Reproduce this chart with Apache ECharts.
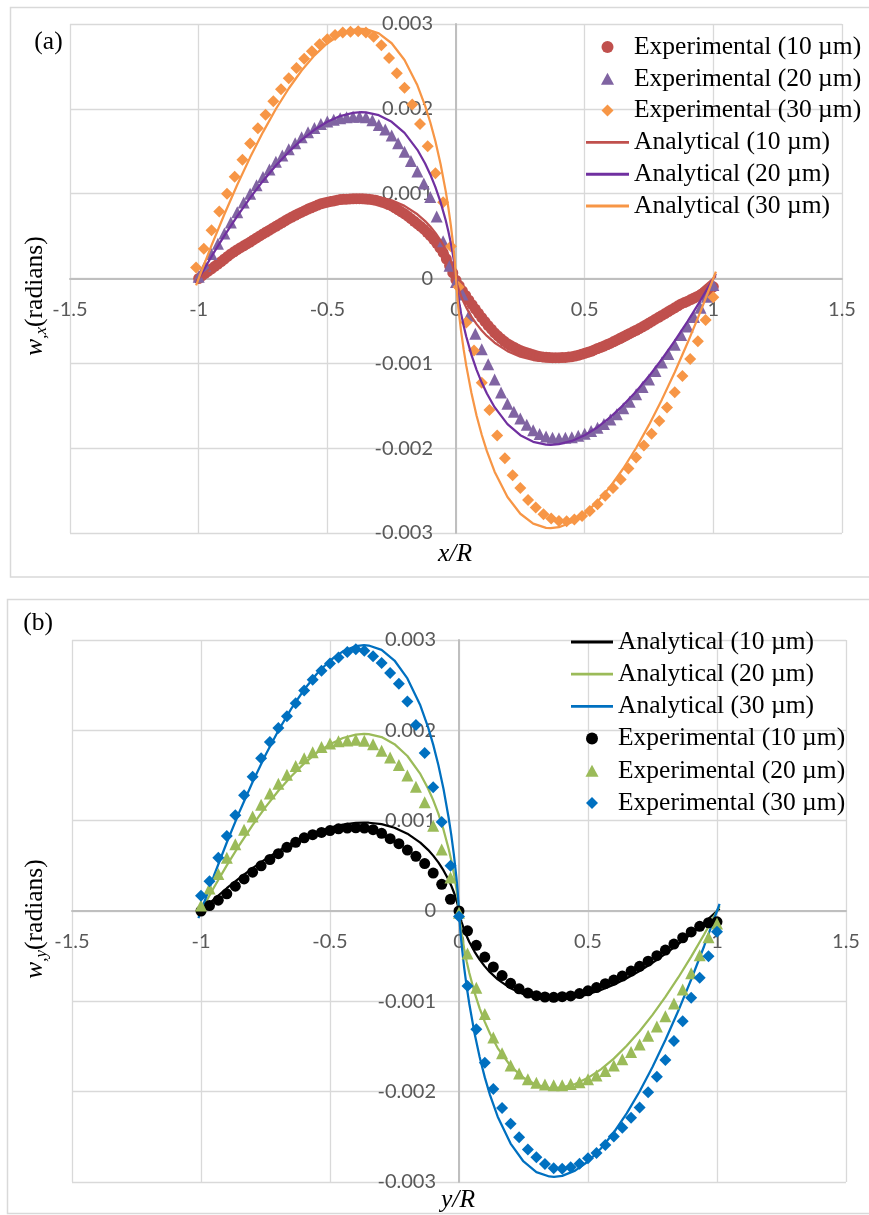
<!DOCTYPE html>
<html><head><meta charset="utf-8">
<script src="https://cdn.jsdelivr.net/npm/echarts@6/dist/echarts.min.js"></script>
<style>html,body{margin:0;padding:0;background:#fff}#c{width:869px;height:1215px}</style>
</head><body><div id="c"></div>
<script>
// ---- values (y in units of 1e-6 rad) ----
const Y_UNIT = 1e-6;
const xTicks = [-1.5, -1, -0.5, 0, 0.5, 1, 1.5];
const yTicks = [-0.003, -0.002, -0.001, 0, 0.001, 0.002, 0.003];

// analytical curves (shared by both panels)
const anX = [-1.01,-1,-0.95,-0.9,-0.85,-0.8,-0.75,-0.7,-0.65,-0.6,-0.55,-0.5,-0.45,-0.4,-0.368,-0.35,-0.3,-0.25,-0.2,-0.15,-0.12,-0.1,-0.08,-0.06,-0.04,-0.03,-0.02,-0.01,-0.005,0,0.005,0.01,0.02,0.03,0.04,0.06,0.08,0.1,0.12,0.15,0.2,0.25,0.3,0.35,0.368,0.4,0.45,0.5,0.55,0.6,0.65,0.7,0.75,0.8,0.85,0.9,0.95,1,1.01];
const an10 = [-27,0,130,252,367,475,574,664,745,815,875,922,956,975,979,977,961,922,856,757,677,613,538,449,343,280,208,123,70,0,-70,-123,-208,-280,-343,-449,-538,-613,-677,-757,-856,-922,-961,-977,-979,-975,-956,-922,-875,-815,-745,-664,-574,-475,-367,-252,-130,0,27];
const an20 = [-54,0,260,505,736,951,1150,1331,1492,1634,1753,1847,1915,1953,1961,1958,1925,1847,1716,1517,1356,1227,1077,900,687,561,417,246,141,0,-141,-246,-417,-561,-687,-900,-1077,-1227,-1356,-1517,-1716,-1847,-1925,-1958,-1961,-1953,-1915,-1847,-1753,-1634,-1492,-1331,-1150,-951,-736,-505,-260,0,54];
const an30 = [-80,0,390,758,1105,1428,1726,1998,2240,2452,2630,2773,2874,2932,2943,2939,2890,2773,2575,2277,2035,1842,1617,1350,1030,842,626,369,212,0,-212,-369,-626,-842,-1030,-1350,-1617,-1842,-2035,-2277,-2575,-2773,-2890,-2939,-2943,-2932,-2874,-2773,-2630,-2452,-2240,-1998,-1726,-1428,-1105,-758,-390,0,80];

// panel (a) experimental
const xA10 = [
  -1,-0.9875,-0.975,-0.9625,-0.95,-0.9375,-0.925,-0.9125,-0.9,-0.8875,
  -0.875,-0.8625,-0.85,-0.8375,-0.825,-0.8125,-0.8,-0.7875,-0.775,-0.7625,
  -0.75,-0.7375,-0.725,-0.7125,-0.7,-0.6875,-0.675,-0.6625,-0.65,-0.6375,
  -0.625,-0.6125,-0.6,-0.5875,-0.575,-0.5625,-0.55,-0.5375,-0.525,-0.5125,
  -0.5,-0.4875,-0.475,-0.4625,-0.45,-0.4375,-0.425,-0.4125,-0.4,-0.3875,
  -0.375,-0.3625,-0.35,-0.3375,-0.325,-0.3125,-0.3,-0.2875,-0.275,-0.2625,
  -0.25,-0.2375,-0.225,-0.2125,-0.2,-0.1875,-0.175,-0.1625,-0.15,-0.1375,
  -0.125,-0.1125,-0.1,-0.0875,-0.075,-0.0625,-0.05,-0.0375,-0.025,-0.0125,
  0,
  0.0125,0.025,0.0375,0.05,0.0625,0.075,0.0875,0.1,0.1125,0.125,
  0.1375,0.15,0.1625,0.175,0.1875,0.2,0.2125,0.225,0.2375,0.25,
  0.2625,0.275,0.2875,0.3,0.3125,0.325,0.3375,0.35,0.3625,0.375,
  0.3875,0.4,0.4125,0.425,0.4375,0.45,0.4625,0.475,0.4875,0.5,
  0.5125,0.525,0.5375,0.55,0.5625,0.575,0.5875,0.6,0.6125,0.625,
  0.6375,0.65,0.6625,0.675,0.6875,0.7,0.7125,0.725,0.7375,0.75,
  0.7625,0.775,0.7875,0.8,0.8125,0.825,0.8375,0.85,0.8625,0.875,
  0.8875,0.9,0.9125,0.925,0.9375,0.95,0.9625,0.975,0.9875,1];
const expA10 = [
  0,30,60,88,115,143,170,200,230,260,
  290,315,340,363,385,408,430,454,478,502,
  525,548,570,593,615,638,660,683,705,725,
  745,764,782,800,818,834,850,866,880,891,
  900,908,915,923,930,933,935,938,940,941,
  941,939,937,933,929,921,912,900,888,872,
  855,833,810,786,762,734,705,675,645,614,
  582,545,505,462,415,362,305,230,150,65,
  -20,
  -85,-145,-200,-255,-308,-360,-410,-460,-508,-555,
  -598,-640,-676,-710,-740,-768,-790,-810,-830,-848,
  -862,-875,-888,-900,-911,-920,-924,-928,-931,-933,
  -933,-933,-932,-930,-926,-922,-914,-905,-894,-882,
  -870,-858,-842,-825,-811,-796,-779,-762,-743,-724,
  -705,-686,-667,-648,-629,-610,-590,-570,-548,-525,
  -503,-480,-458,-435,-413,-390,-368,-345,-322,-300,
  -284,-268,-249,-230,-211,-192,-171,-150,-124,-98];
const xA25 = [-1,-0.975,-0.95,-0.925,-0.9,-0.875,-0.85,-0.825,-0.8,-0.775,-0.75,-0.725,-0.7,-0.675,-0.65,-0.625,-0.6,-0.575,-0.55,-0.525,-0.5,-0.475,-0.45,-0.425,-0.4,-0.375,-0.35,-0.325,-0.3,-0.275,-0.25,-0.225,-0.2,-0.175,-0.15,-0.125,-0.1,-0.075,-0.05,-0.025,0,0.025,0.05,0.075,0.1,0.125,0.15,0.175,0.2,0.225,0.25,0.275,0.3,0.325,0.35,0.375,0.4,0.425,0.45,0.475,0.5,0.525,0.55,0.575,0.6,0.625,0.65,0.675,0.7,0.725,0.75,0.775,0.8,0.825,0.85,0.875,0.9,0.925,0.95,0.975,1];
const expA20 = [20,150,290,410,530,660,780,895,1000,1100,1195,1285,1375,1450,1525,1595,1665,1725,1775,1820,1850,1872,1890,1900,1908,1908,1900,1865,1810,1755,1685,1595,1495,1385,1260,1120,960,730,440,150,-40,-190,-440,-650,-835,-1010,-1190,-1345,-1475,-1570,-1650,-1725,-1790,-1833,-1862,-1878,-1882,-1878,-1870,-1855,-1830,-1798,-1760,-1715,-1662,-1600,-1530,-1453,-1365,-1278,-1190,-1090,-990,-890,-780,-665,-565,-455,-345,-215,-78];
const xA30 = [-1.01,-0.98,-0.95,-0.92,-0.89,-0.86,-0.83,-0.8,-0.77,-0.74,-0.71,-0.68,-0.65,-0.62,-0.59,-0.56,-0.53,-0.5,-0.47,-0.44,-0.41,-0.38,-0.35,-0.32,-0.29,-0.26,-0.23,-0.2,-0.17,-0.14,-0.11,-0.08,-0.05,-0.02,0.01,0.04,0.07,0.1,0.13,0.16,0.19,0.22,0.25,0.28,0.31,0.34,0.37,0.4,0.43,0.46,0.49,0.52,0.55,0.58,0.61,0.64,0.67,0.7,0.73,0.76,0.79,0.82,0.85,0.88,0.91,0.94,0.97,1];
const expA30 = [130,350,570,790,1000,1200,1400,1590,1770,1930,2090,2230,2360,2480,2590,2680,2760,2820,2870,2900,2910,2915,2900,2850,2750,2600,2420,2250,2050,1820,1560,1240,900,380,-100,-520,-850,-1230,-1550,-1850,-2120,-2320,-2470,-2610,-2700,-2780,-2830,-2860,-2862,-2840,-2800,-2740,-2660,-2560,-2470,-2370,-2240,-2110,-1970,-1830,-1680,-1520,-1340,-1150,-950,-740,-490,-220];

// panel (b) experimental
const xB = [-1,-0.967,-0.933,-0.9,-0.867,-0.833,-0.8,-0.767,-0.733,-0.7,-0.667,-0.633,-0.6,-0.567,-0.533,-0.5,-0.467,-0.433,-0.4,-0.367,-0.333,-0.3,-0.267,-0.233,-0.2,-0.167,-0.133,-0.1,-0.067,-0.033,0,0.033,0.067,0.1,0.133,0.167,0.2,0.233,0.267,0.3,0.333,0.367,0.4,0.433,0.467,0.5,0.533,0.567,0.6,0.633,0.667,0.7,0.733,0.767,0.8,0.833,0.867,0.9,0.933,0.967,1];
const expB10 = [0,60,120,190,275,355,430,500,570,635,705,760,810,845,870,890,910,918,921,918,900,860,800,745,675,605,525,420,295,130,0,-220,-380,-510,-620,-715,-800,-862,-908,-938,-952,-955,-948,-940,-914,-883,-848,-805,-765,-720,-665,-612,-556,-495,-432,-366,-296,-232,-170,-130,-120];
const expB20 = [60,250,410,590,740,900,1045,1175,1300,1410,1508,1605,1690,1756,1815,1855,1880,1888,1895,1885,1845,1775,1700,1615,1500,1375,1205,945,680,370,-20,-470,-850,-1140,-1400,-1575,-1710,-1800,-1862,-1900,-1920,-1928,-1928,-1915,-1895,-1862,-1820,-1770,-1710,-1640,-1562,-1477,-1380,-1278,-1165,-1025,-868,-690,-490,-290,-137];
const expB30 = [170,330,590,830,1060,1280,1485,1690,1870,2025,2157,2300,2440,2560,2660,2740,2805,2866,2898,2882,2820,2745,2635,2515,2320,2060,1750,1370,985,500,-60,-830,-1310,-1680,-1970,-2180,-2355,-2505,-2640,-2725,-2800,-2848,-2852,-2836,-2798,-2738,-2680,-2590,-2496,-2400,-2290,-2175,-2007,-1836,-1650,-1440,-1220,-960,-740,-500,-230];

const LABELS = {
  aE10: 'Experimental (10 µm)', aE20: 'Experimental (20 µm)', aE30: 'Experimental (30 µm)',
  aA10: 'Analytical (10 µm)', aA20: 'Analytical (20 µm)', aA30: 'Analytical (30 µm)',
  bA10: 'Analytical (10 µm)', bA20: 'Analytical (20 µm)', bA30: 'Analytical (30 µm)',
  bE10: 'Experimental (10 µm)', bE20: 'Experimental (20 µm)', bE30: 'Experimental (30 µm)'
};

// ---- build ----
function pairs(xs, ys) { return xs.map((x, i) => [x, ys[i] * Y_UNIT]); }
const SERIF = '"Liberation Serif", "Times New Roman", serif';
const TICKFONT = 'Lato, "Open Sans", sans-serif';

function xAx(gi) {
  return { type: 'value', gridIndex: gi, min: xTicks[0], max: xTicks[xTicks.length - 1], interval: 0.5,
    axisLine: { onZero: false, lineStyle: { color: '#bfbfbf', width: 2 } },
    axisTick: { show: false },
    axisLabel: { color: '#595959', fontFamily: TICKFONT, fontSize: 20, margin: 21 },
    splitLine: { show: true, lineStyle: { color: '#d9d9d9', width: 1.3 } }, z: 1 };
}
function yAx(gi) {
  return { type: 'value', gridIndex: gi, min: yTicks[0], max: yTicks[yTicks.length - 1], interval: 0.001,
    axisLine: { onZero: false, lineStyle: { color: '#bfbfbf', width: 2 } },
    axisTick: { show: false },
    axisLabel: { color: '#595959', fontFamily: TICKFONT, fontSize: 20, margin: 23 },
    splitLine: { show: true, lineStyle: { color: '#d9d9d9', width: 1.3 } }, z: 1 };
}
function scat(name, gi, xs, ys, symbol, size, color) {
  return { type: 'scatter', name, xAxisIndex: gi, yAxisIndex: gi, data: pairs(xs, ys),
    symbol, symbolSize: size, itemStyle: { color, opacity: 1 }, z: 2 };
}
function line(name, gi, xs, ys, color, z) {
  return { type: 'line', name, xAxisIndex: gi, yAxisIndex: gi, data: pairs(xs, ys),
    symbol: 'none', showSymbol: false, lineStyle: { color, width: 2.25 }, itemStyle: { color }, z };
}

const RED = '#C0504D', PURPLE_M = '#8064A2', PURPLE_L = '#7030A0', ORANGE = '#F79646';
const GREEN = '#9BBB59', BLUE = '#0070C0', BLACK = '#000000';

const ICON_LINE = 'path://M0,0H60V4H0Z';
const ICON_TRI = 'path://M6,0L12,11L0,11Z';
const ICON_DIA = 'path://M6,0L12,6L6,12L0,6Z';

const legendText = { fontFamily: SERIF, fontSize: 25.5, color: '#000', lineHeight: 26 };

const option = {
  animation: false,
  grid: [
    { left: 70, top: 24, width: 772, height: 509, containLabel: false, outerBoundsMode: 'none' },
    { left: 72, top: 640, width: 774, height: 542, containLabel: false, outerBoundsMode: 'none' }
  ],
  xAxis: [xAx(0), xAx(1)],
  yAxis: [yAx(0), yAx(1)],
  legend: [
    { orient: 'vertical', left: 586, top: 34, padding: 0, itemWidth: 43, itemHeight: 12, itemGap: 5.8,
      symbolKeepAspect: true, selectedMode: false,
      data: [{ name: 'aE10', icon: 'circle' }, { name: 'aE20', icon: ICON_TRI }, { name: 'aE30', icon: ICON_DIA },
             { name: 'aA10', icon: ICON_LINE }, { name: 'aA20', icon: ICON_LINE }, { name: 'aA30', icon: ICON_LINE }],
      formatter: n => LABELS[n], textStyle: legendText },
    { orient: 'vertical', left: 571, top: 629, padding: 0, itemWidth: 42, itemHeight: 12, itemGap: 6.2,
      symbolKeepAspect: true, selectedMode: false,
      data: [{ name: 'bA10', icon: ICON_LINE }, { name: 'bA20', icon: ICON_LINE }, { name: 'bA30', icon: ICON_LINE },
             { name: 'bE10', icon: 'circle' }, { name: 'bE20', icon: ICON_TRI }, { name: 'bE30', icon: ICON_DIA }],
      formatter: n => LABELS[n], textStyle: legendText }
  ],
  series: [
    scat('aE10', 0, xA10, expA10, 'circle', 11, RED),
    scat('aE20', 0, xA25, expA20, 'triangle', 12, PURPLE_M),
    scat('aE30', 0, xA30, expA30, 'diamond', 12, ORANGE),
    line('aA10', 0, anX, an10, RED, 3),
    line('aA20', 0, anX, an20, PURPLE_L, 3),
    line('aA30', 0, anX, an30, ORANGE, 3),
    line('bA10', 1, anX, an10, BLACK, 2),
    line('bA20', 1, anX, an20, GREEN, 2),
    line('bA30', 1, anX, an30, BLUE, 2),
    scat('bE10', 1, xB, expB10, 'circle', 11, BLACK),
    scat('bE20', 1, xB, expB20, 'triangle', 12, GREEN),
    scat('bE30', 1, xB, expB30, 'diamond', 12, BLUE)
  ],
  graphic: [
    { type: 'rect', z: -10, silent: true, shape: { x: 10.5, y: 7.5, width: 900, height: 569.5 },
      style: { fill: 'none', stroke: '#d9d9d9', lineWidth: 1.5 } },
    { type: 'rect', z: -10, silent: true, shape: { x: 7.5, y: 599.5, width: 900, height: 614 },
      style: { fill: 'none', stroke: '#d9d9d9', lineWidth: 1.5 } },
    { type: 'text', z: 100, x: 48.5, y: 42, style: { text: '(a)', font: '25.5px ' + SERIF, fill: '#000',
      align: 'center', verticalAlign: 'middle', textAlign: 'center', textVerticalAlign: 'middle' } },
    { type: 'text', z: 100, x: 38, y: 623, style: { text: '(b)', font: '25.5px ' + SERIF, fill: '#000',
      align: 'center', verticalAlign: 'middle', textAlign: 'center', textVerticalAlign: 'middle' } },
    { type: 'text', z: 100, x: 455, y: 554, style: { text: 'x/R', font: 'italic 25.5px ' + SERIF, fill: '#000',
      align: 'center', verticalAlign: 'middle', textAlign: 'center', textVerticalAlign: 'middle' } },
    { type: 'text', z: 100, x: 458, y: 1200, style: { text: 'y/R', font: 'italic 25.5px ' + SERIF, fill: '#000',
      align: 'center', verticalAlign: 'middle', textAlign: 'center', textVerticalAlign: 'middle' } },
    { type: 'text', z: 100, x: 35, y: 296, rotation: Math.PI / 2,
      style: { text: '{i|w}{s|,x}{n|(radians)}', fill: '#000', align: 'center', verticalAlign: 'middle',
        textAlign: 'center', textVerticalAlign: 'middle',
        rich: {
          i: { fontFamily: SERIF, fontStyle: 'italic', fontSize: 25.5, fill: '#000', lineHeight: 30 },
          s: { fontFamily: SERIF, fontStyle: 'italic', fontSize: 17, fill: '#000', lineHeight: 30, verticalAlign: 'bottom' },
          n: { fontFamily: SERIF, fontSize: 25.5, fill: '#000', lineHeight: 30 }
        } } },
    { type: 'text', z: 100, x: 35, y: 919, rotation: Math.PI / 2,
      style: { text: '{i|w}{s|,y}{n|(radians)}', fill: '#000', align: 'center', verticalAlign: 'middle',
        textAlign: 'center', textVerticalAlign: 'middle',
        rich: {
          i: { fontFamily: SERIF, fontStyle: 'italic', fontSize: 25.5, fill: '#000', lineHeight: 30 },
          s: { fontFamily: SERIF, fontStyle: 'italic', fontSize: 17, fill: '#000', lineHeight: 30, verticalAlign: 'bottom' },
          n: { fontFamily: SERIF, fontSize: 25.5, fill: '#000', lineHeight: 30 }
        } } }
  ]
};

const chart = echarts.init(document.getElementById('c'), null, { renderer: 'canvas' });
chart.setOption(option);

// Move each axis (line + labels) onto the zero of the other axis, as in the original
const xOff = [], yOff = [];
[0, 1].forEach(gi => {
  const zero = chart.convertToPixel({ gridIndex: gi }, [0, 0]);
  const corner = chart.convertToPixel({ gridIndex: gi }, [xTicks[0], yTicks[0]]);
  yOff.push({ offset: -(zero[0] - corner[0]) });
  xOff.push({ offset: -(corner[1] - zero[1]) });
});
chart.setOption({ xAxis: xOff, yAxis: yOff });
</script>
</body></html>
